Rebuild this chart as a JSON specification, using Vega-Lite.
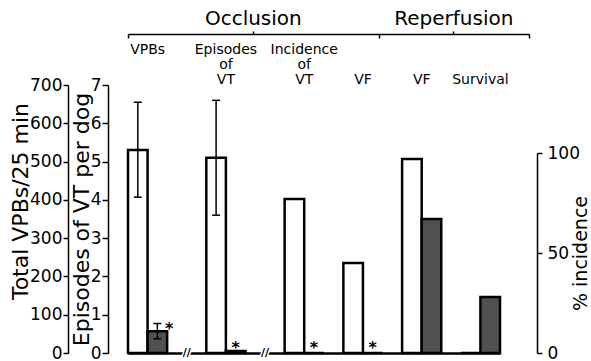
{
  "$schema": "https://vega.github.io/schema/vega-lite/v6.json",
  "width": 429,
  "height": 268,
  "autosize": {"type": "none"},
  "padding": {"left": 108, "top": 85, "right": 54, "bottom": 8},
  "config": {
    "font": "DejaVu Sans",
    "view": {"stroke": null},
    "axis": {"grid": false, "domainColor": "black", "tickColor": "black", "labelColor": "black", "titleColor": "black", "titleFontWeight": "normal", "domainWidth": 1.5, "tickWidth": 1.5, "labelOverlap": false}
  },
  "datasets": {
    "vpb": [
      {"bar": "VPBs control", "treatment": "control", "value": 530, "lo": 407, "hi": 655},
      {"bar": "VPBs treated", "treatment": "treated", "value": 57, "lo": 37, "hi": 77, "sig": "*"}
    ],
    "episodes": [
      {"bar": "Episodes control", "treatment": "control", "value": 5.1, "lo": 3.6, "hi": 6.6},
      {"bar": "Episodes treated", "treatment": "treated", "value": 0.05, "sig": "*"}
    ],
    "incidence": [
      {"bar": "IncVT control", "treatment": "control", "value": 77},
      {"bar": "IncVT treated", "treatment": "treated", "value": 0, "sig": "*"},
      {"bar": "VFocc control", "treatment": "control", "value": 45},
      {"bar": "VFocc treated", "treatment": "treated", "value": 0, "sig": "*"},
      {"bar": "VFrep control", "treatment": "control", "value": 97},
      {"bar": "VFrep treated", "treatment": "treated", "value": 67},
      {"bar": "Survival control", "treatment": "control", "value": 0},
      {"bar": "Survival treated", "treatment": "treated", "value": 28}
    ],
    "breaks": [{"bar": "gap1a"}, {"bar": "gap2a"}],
    "phases": [{"phase": "Occlusion"}, {"phase": "Reperfusion"}]
  },
  "layer": [
    {
      "data": {"name": "vpb"},
      "layer": [
        {
          "mark": {"type": "bar", "stroke": "black", "strokeWidth": 2.5},
          "encoding": {
            "x": {"field": "bar", "type": "nominal",
              "scale": {"type": "band", "domain": ["VPBs control", "VPBs treated", "gap1a", "gap1b", "Episodes control", "Episodes treated", "gap2a", "gap2b", "IncVT control", "IncVT treated", "gap3", "VFocc control", "VFocc treated", "gap4", "VFrep control", "VFrep treated", "gap5", "Survival control", "Survival treated"], "range": [20, 392], "paddingInner": 0, "paddingOuter": 0},
              "axis": {"orient": "top", "domain": false, "ticks": false, "tickSize": 0, "labelFontSize": 14, "labelLineHeight": 15, "labelBaseline": "top", "labelPadding": 43, "labelOffset": 9.8, "labelAngle": 0, "labelOverlap": false, "title": null,
                "labelExpr": "datum.value == 'VPBs control' ? ['VPBs'] : datum.value == 'Episodes control' ? ['Episodes', 'of', 'VT'] : datum.value == 'IncVT control' ? ['Incidence', 'of', 'VT'] : ''"}},
            "y": {"field": "value", "type": "quantitative", "scale": {"domain": [0, 700], "nice": false},
              "axis": {"orient": "left", "offset": 40, "values": [0, 100, 200, 300, 400, 500, 600, 700], "tickCount": 10, "format": "d", "tickSize": 5, "labelFontSize": 17, "labelPadding": 1, "labelOverlap": false, "title": "Total VPBs/25 min", "titleFontSize": 22, "titlePadding": -3, "titleY": 116}},
            "fill": {"field": "treatment", "type": "nominal", "scale": {"domain": ["control", "treated"], "range": ["white", "#505050"]}, "legend": null}
          }
        },
        {
          "mark": {"type": "rule", "strokeWidth": 1.5, "color": "black"},
          "encoding": {"x": {"field": "bar", "type": "nominal"}, "y": {"field": "lo", "type": "quantitative"}, "y2": {"field": "hi"}}
        },
        {
          "mark": {"type": "tick", "orient": "horizontal", "size": 8, "thickness": 1.5, "color": "black", "opacity": 1},
          "encoding": {"x": {"field": "bar", "type": "nominal"}, "y": {"field": "hi", "type": "quantitative"}}
        },
        {
          "mark": {"type": "tick", "orient": "horizontal", "size": 8, "thickness": 1.5, "color": "black", "opacity": 1},
          "encoding": {"x": {"field": "bar", "type": "nominal"}, "y": {"field": "lo", "type": "quantitative"}}
        },
        {
          "transform": [{"filter": "datum.sig"}],
          "mark": {"type": "text", "fontSize": 16, "fontWeight": "bold", "baseline": "alphabetic", "align": "center", "dx": 2, "dy": 10, "color": "black"},
          "encoding": {"x": {"field": "bar", "type": "nominal", "bandPosition": 1}, "y": {"field": "hi", "type": "quantitative"}, "text": {"field": "sig"}}
        },
        {
          "data": {"name": "breaks"},
          "mark": {"type": "text", "text": "//", "fontSize": 11, "fontWeight": "bold", "baseline": "middle", "align": "center", "fill": "white", "stroke": "white", "strokeWidth": 3},
          "encoding": {"x": {"field": "bar", "type": "nominal", "bandPosition": 1}, "y": {"datum": 0}}
        },
        {
          "data": {"name": "breaks"},
          "mark": {"type": "text", "text": "//", "fontSize": 11, "fontWeight": "bold", "baseline": "middle", "align": "center", "color": "black"},
          "encoding": {"x": {"field": "bar", "type": "nominal", "bandPosition": 1}, "y": {"datum": 0}}
        }
      ]
    },
    {
      "data": {"name": "episodes"},
      "layer": [
        {
          "mark": {"type": "bar", "stroke": "black", "strokeWidth": 2.5},
          "encoding": {
            "x": {"field": "bar", "type": "nominal",
              "scale": {"type": "band", "domain": ["VPBs control", "VPBs treated", "gap1a", "gap1b", "Episodes control", "Episodes treated", "gap2a", "gap2b", "IncVT control", "IncVT treated", "gap3", "VFocc control", "VFocc treated", "gap4", "VFrep control", "VFrep treated", "gap5", "Survival control", "Survival treated"], "range": [20, 392], "paddingInner": 0, "paddingOuter": 0},
              "axis": {"orient": "bottom", "labels": false, "ticks": false, "domain": true, "domainWidth": 2.5, "title": null}},
            "y": {"field": "value", "type": "quantitative", "scale": {"domain": [0, 7], "nice": false},
              "axis": {"orient": "left", "offset": 0, "values": [0, 1, 2, 3, 4, 5, 6, 7], "tickCount": 10, "format": "d", "tickSize": 6, "labelFontSize": 17, "labelPadding": 1, "labelOverlap": false, "title": "Episodes of VT per dog", "titleFontSize": 22, "titlePadding": -3.4}},
            "fill": {"field": "treatment", "type": "nominal", "legend": null}
          }
        },
        {
          "transform": [{"filter": "isValid(datum.hi)"}],
          "mark": {"type": "rule", "strokeWidth": 1.5, "color": "black"},
          "encoding": {"x": {"field": "bar", "type": "nominal"}, "y": {"field": "lo", "type": "quantitative"}, "y2": {"field": "hi"}}
        },
        {
          "transform": [{"filter": "isValid(datum.hi)"}],
          "mark": {"type": "tick", "orient": "horizontal", "size": 8, "thickness": 1.5, "color": "black", "opacity": 1},
          "encoding": {"x": {"field": "bar", "type": "nominal"}, "y": {"field": "hi", "type": "quantitative"}}
        },
        {
          "transform": [{"filter": "isValid(datum.hi)"}],
          "mark": {"type": "tick", "orient": "horizontal", "size": 8, "thickness": 1.5, "color": "black", "opacity": 1},
          "encoding": {"x": {"field": "bar", "type": "nominal"}, "y": {"field": "lo", "type": "quantitative"}}
        },
        {
          "transform": [{"filter": "datum.sig"}],
          "mark": {"type": "text", "fontSize": 16, "fontWeight": "bold", "baseline": "alphabetic", "align": "center", "dy": 0, "color": "black"},
          "encoding": {"x": {"field": "bar", "type": "nominal"}, "y": {"datum": 0}, "text": {"field": "sig"}}
        }
      ]
    },
    {
      "data": {"name": "incidence"},
      "layer": [
        {
          "mark": {"type": "bar", "stroke": "black", "strokeWidth": 2.5},
          "encoding": {
            "x": {"field": "bar", "type": "nominal",
              "scale": {"type": "band", "domain": ["VPBs control", "VPBs treated", "gap1a", "gap1b", "Episodes control", "Episodes treated", "gap2a", "gap2b", "IncVT control", "IncVT treated", "gap3", "VFocc control", "VFocc treated", "gap4", "VFrep control", "VFrep treated", "gap5", "Survival control", "Survival treated"], "range": [20, 392], "paddingInner": 0, "paddingOuter": 0},
              "axis": {"orient": "top", "domain": false, "ticks": false, "tickSize": 0, "labelFontSize": 14, "labelBaseline": "alphabetic", "labelPadding": 2, "labelOffset": 9.8, "labelAngle": 0, "labelOverlap": false, "title": null,
                "labelExpr": "(datum.value == 'VFocc control' || datum.value == 'VFrep control') ? 'VF' : datum.value == 'Survival control' ? 'Survival' : ''"}},
            "y": {"field": "value", "type": "quantitative", "scale": {"domain": [0, 100], "range": [268, 68], "nice": false},
              "axis": {"orient": "right", "values": [0, 50, 100], "tickSize": 5, "labelFontSize": 17, "labelPadding": 5, "title": "% incidence", "titleFontSize": 19, "titleAngle": 270, "titleBaseline": "top", "titlePadding": -8}},
            "fill": {"field": "treatment", "type": "nominal", "legend": null}
          }
        },
        {
          "transform": [{"filter": "datum.sig"}],
          "mark": {"type": "text", "fontSize": 16, "fontWeight": "bold", "baseline": "alphabetic", "align": "center", "dy": 0, "color": "black"},
          "encoding": {"x": {"field": "bar", "type": "nominal"}, "y": {"datum": 0}, "text": {"field": "sig"}}
        }
      ]
    },
    {
      "data": {"name": "phases"},
      "mark": {"type": "point", "opacity": 0},
      "encoding": {
        "x": {"field": "phase", "type": "nominal",
          "scale": {"type": "band", "domain": ["O1", "O2", "Occlusion", "O4", "O5", "R1", "Reperfusion", "R3"], "range": [20, 421], "paddingInner": 0, "paddingOuter": 0},
          "axis": {"orient": "top", "offset": 51, "domain": true, "domainWidth": 1.5, "ticks": true, "tickSize": 3, "tickWidth": 1.5,
            "tickOpacity": {"condition": {"test": "length(datum.value) > 2", "value": 1}, "value": 0},
            "labelExpr": "length(datum.value) > 2 ? datum.value : ''",
            "labelFontSize": 20, "labelPadding": 3, "labelAngle": 0, "labelOverlap": false, "title": null}}
      }
    },
    {
      "data": {"name": "phases"},
      "mark": {"type": "point", "opacity": 0},
      "encoding": {
        "x": {"field": "phase", "type": "nominal",
          "scale": {"type": "band", "domain": ["pre", "O1", "O2", "Occlusion", "O4", "O5", "R1", "Reperfusion", "R3"], "range": [-30.1, 421], "paddingInner": 0, "paddingOuter": 0},
          "axis": {"orient": "top", "offset": 51, "domain": false, "labels": false, "ticks": true, "tickBand": "extent", "tickSize": -4, "tickWidth": 1.5,
            "tickOpacity": {"condition": {"test": "datum.value == 'pre' || datum.value == 'O5' || datum.value == 'R3'", "value": 1}, "value": 0},
            "title": null}}
      }
    }
  ],
  "resolve": {"scale": {"x": "independent", "y": "independent"}}
}
